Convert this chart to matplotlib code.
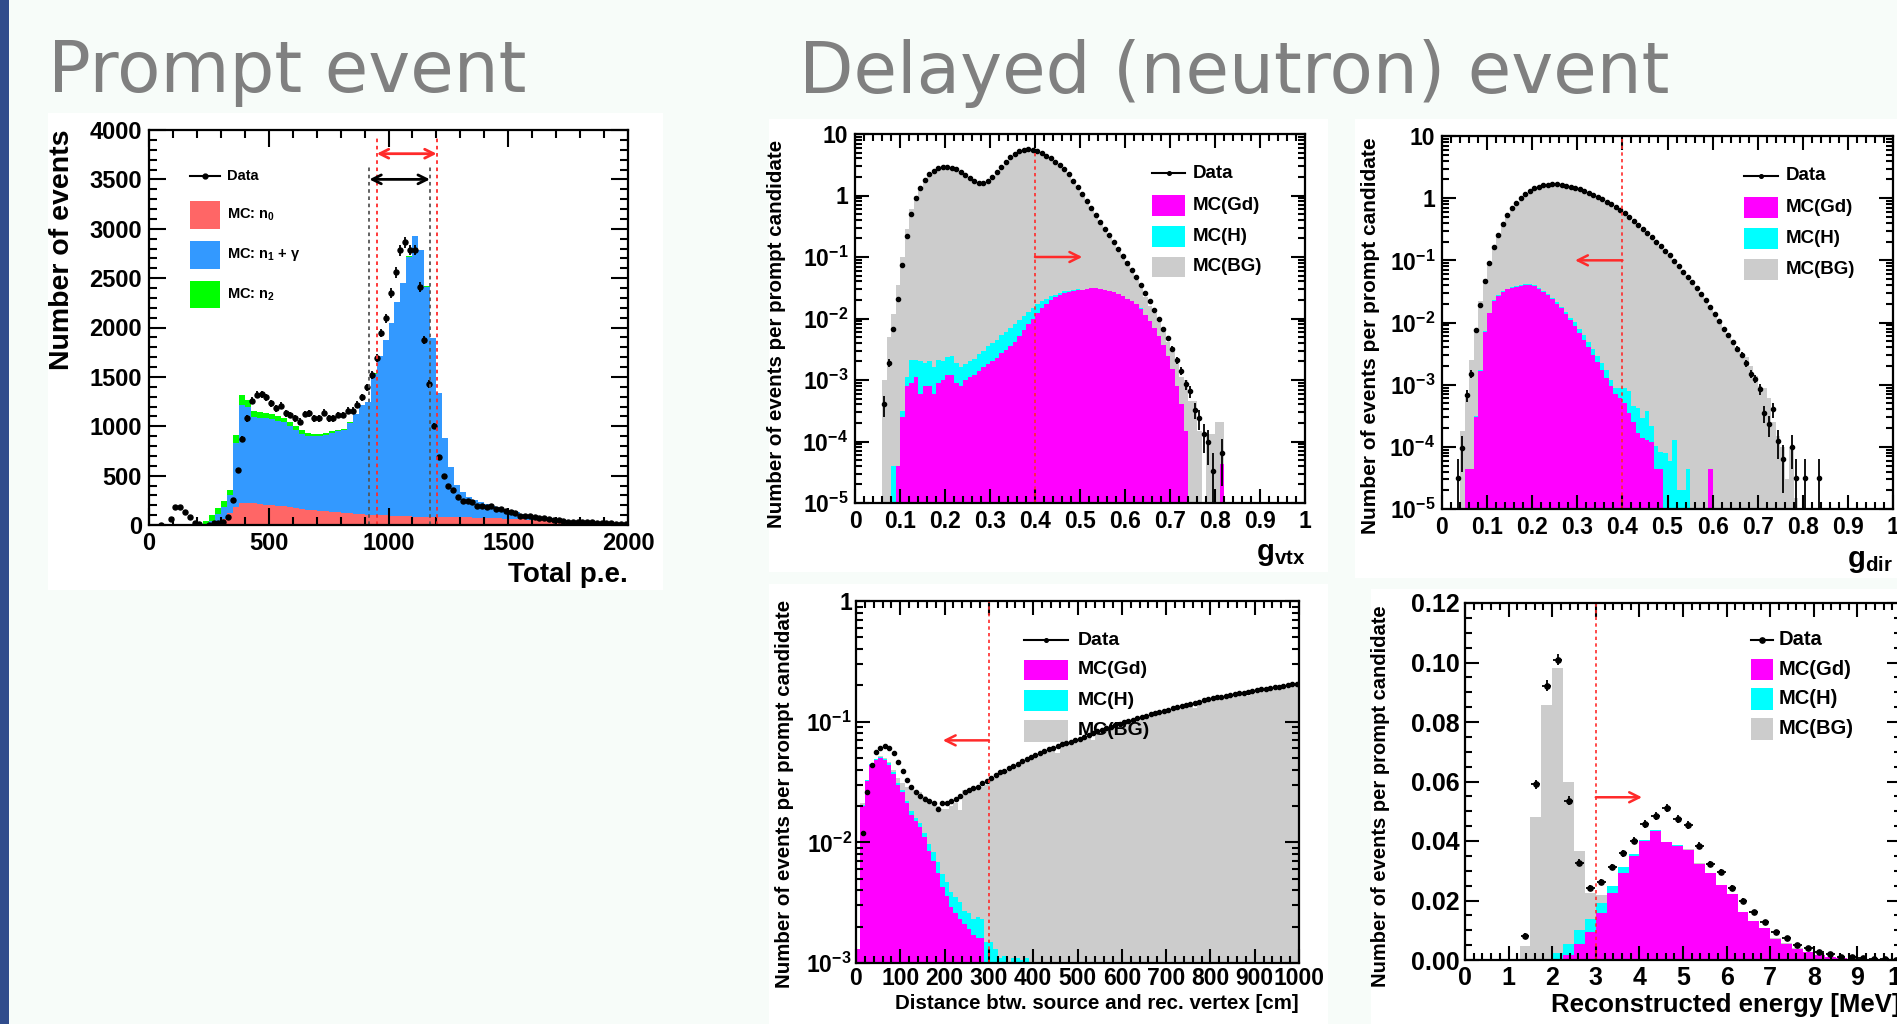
import numpy as np
import matplotlib
matplotlib.use('Agg')
import matplotlib.pyplot as plt
from matplotlib.patches import Rectangle
from matplotlib.ticker import (MultipleLocator, FixedLocator, FixedFormatter,
                               LogLocator, NullFormatter, FuncFormatter)

plt.rcParams.update({
    'font.family': ['Liberation Sans', 'DejaVu Sans'],
    'font.weight': 'bold',
    'mathtext.fontset': 'custom',
    'mathtext.rm': 'Liberation Sans:bold',
    'mathtext.it': 'Liberation Sans:bold',
    'mathtext.bf': 'Liberation Sans:bold',
    'mathtext.sf': 'Liberation Sans:bold',
    'axes.linewidth': 1.6,
})

# ---------------------------------------------------------------- data
# Panel 1: Total p.e. (MC in 25 p.e. bins, data in 20 p.e. bins)
pe_total = [0, 0, 0, 0, 0, 0, 0, 0, 0,
            40, 100, 169, 247, 355, 912, 1318, 1267, 1150, 1140,
            1135, 1120, 1100, 1080, 1040, 1000, 960, 935, 925, 925,
            930, 950, 960, 975, 1040, 1125, 1216, 1250, 1537, 1713,
            1875, 2044, 2257, 2449, 2720, 2929, 2787, 2416, 1892, 1334,
            878, 591, 405, 330, 280, 250, 230, 210, 195, 180,
            165, 150, 130, 115, 105, 95, 85, 75, 66, 58,
            50, 44, 38, 33, 28, 24, 20, 17, 14, 12, 10]
pe_n0 = [0, 0, 0, 0, 0, 0, 0, 0, 0, 0,
         5, 20, 60, 120, 180, 220, 225, 220, 210, 205,
         200, 195, 190, 180, 170, 160, 155, 150, 145, 140,
         135, 130, 125, 120, 115, 110, 105, 100, 100, 98,
         95, 92, 90, 88, 85, 82, 80, 79, 78, 78,
         78, 77, 77, 76, 75, 73, 71, 69, 67, 65,
         62, 60, 57, 55, 52, 50, 47, 45, 42, 39,
         36, 33, 30, 27, 24, 20, 17, 14, 12, 10]
pe_n2 = [0, 0, 0, 0, 0, 0, 0, 0, 0,
         40, 60, 60, 60, 55, 85, 100, 70, 60, 55,
         50, 45, 45, 42, 40, 40, 35, 30, 28, 22,
         18, 15, 12, 10, 8, 6, 5, 4, 3, 3,
         2, 2, 2, 2, 2, 2, 2, 1, 1, 1,
         0, 0, 0, 0, 0, 0, 0, 0, 0, 0,
         0, 0, 0, 0, 0, 0, 0, 0, 0, 0,
         0, 0, 0, 0, 0, 0, 0, 0, 0, 0, 0]
pe_data = [0, 0, 5, 0, 60, 179, 186, 135, 78, 24,
           8, 0, 3, 17, 25, 34, 78, 253, 557, 868,
           1081, 1260, 1318, 1324, 1294, 1233, 1182, 1210, 1132, 1115,
           1081, 1047, 1125, 1132, 1081, 1081, 1138, 1081, 1081, 1115,
           1115, 1159, 1159, 1216, 1294, 1395, 1520, 1689, 1943, 2095,
           2348, 2557, 2780, 2861, 2787, 2787, 2409, 1875, 1429, 1003,
           686, 497, 400, 355, 287, 247, 247, 236, 196, 196,
           179, 196, 162, 162, 145, 135, 125, 91, 91, 91,
           78, 68, 68, 57, 51, 51, 44, 34, 34, 34,
           27, 27, 27, 17, 17, 17, 17, 10, 10, 10]
pe_err = [0, 0, 4, 0, 9, 13, 13, 12, 9, 5,
          3, 0, 2, 4, 5, 6, 9, 16, 24, 29,
          33, 35, 36, 36, 36, 35, 34, 35, 34, 33,
          33, 32, 34, 34, 33, 33, 34, 33, 33, 33,
          33, 34, 34, 35, 36, 37, 39, 41, 44, 46,
          48, 51, 53, 53, 53, 53, 49, 43, 38, 32,
          26, 22, 20, 19, 17, 16, 16, 15, 14, 14,
          13, 14, 13, 13, 12, 12, 11, 10, 10, 10,
          9, 8, 8, 8, 7, 7, 7, 6, 6, 6,
          5, 5, 5, 4, 4, 4, 4, 3, 3, 3]
pe_cut_black = [920, 1173]
pe_cut_red = [951, 1201]

# Panel 2: g_vtx (0.01 bins)
vtx_data = [0, 0, 0, 0, 0, 0,
            4e-4, 1.9e-3, 6.8e-3, 0.021, 0.074,
            0.22, 0.50, 0.90, 1.34, 1.8,
            2.2, 2.5, 2.75, 2.9, 2.9,
            2.85, 2.7, 2.45, 2.15, 1.9,
            1.72, 1.62, 1.62, 1.74, 2.0,
            2.4, 2.9, 3.5, 4.2, 4.7,
            5.2, 5.5, 5.6, 5.5, 5.2,
            4.85, 4.45, 4.0, 3.55, 3.1,
            2.7, 2.2, 1.75, 1.35, 1.05,
            0.80, 0.62, 0.48, 0.37, 0.29,
            0.225, 0.175, 0.135, 0.105, 0.08,
            0.062, 0.047, 0.035, 0.026, 0.019,
            0.0135, 0.0097, 0.0068, 0.0048, 0.0032,
            0.0021, 0.0014, 8.5e-4, 6.6e-4, 3.3e-4,
            2.4e-4, 1.3e-4, 9.8e-5, 3.3e-5, 0,
            6.5e-5, 0, 0, 0, 0,
            0, 0, 0, 0, 0, 0, 0, 0, 0, 0, 0, 0, 0, 0]
vtx_err = [0, 0, 0, 0, 0, 0,
           1.5e-4, 3e-4, 5e-4, 8e-4, 1.5e-3,
           0, 0, 0, 0, 0, 0, 0, 0, 0, 0,
           0, 0, 0, 0, 0, 0, 0, 0, 0, 0,
           0, 0, 0, 0, 0, 0, 0, 0, 0, 0,
           0, 0, 0, 0, 0, 0, 0, 0, 0, 0,
           0, 0, 0, 0, 0, 0, 0, 0, 0, 0,
           0, 0, 0, 0, 8e-4,
           6.5e-4, 5.5e-4, 4.6e-4, 3.9e-4, 3.2e-4,
           2.6e-4, 2.1e-4, 1.65e-4, 1.45e-4, 1.0e-4,
           8.8e-5, 6.4e-5, 5.6e-5, 3.3e-5, 0,
           4.6e-5, 0, 0, 0, 0,
           0, 0, 0, 0, 0, 0, 0, 0, 0, 0, 0, 0, 0, 0]
vtx_gd = [0, 0, 0, 0, 0, 0, 0, 0, 0,
          4e-5, 2.5e-4, 8e-4, 9e-4, 1.1e-3, 6e-4, 8e-4, 8e-4, 6e-4, 9e-4,
          1.0e-3, 1.2e-3, 1.2e-3, 9e-4, 8e-4, 1.0e-3, 1.1e-3, 1.2e-3, 1.4e-3, 1.6e-3,
          1.8e-3, 2.0e-3, 2.3e-3, 2.7e-3, 3.1e-3, 3.6e-3, 4.2e-3, 5.2e-3, 6.5e-3, 8.0e-3,
          0.010, 0.0125, 0.015, 0.0175, 0.020, 0.022, 0.024, 0.026, 0.027, 0.028,
          0.029, 0.029, 0.030, 0.031, 0.031, 0.030, 0.029, 0.028, 0.027, 0.025,
          0.023, 0.021, 0.019, 0.017, 0.0145, 0.0115, 0.0092, 0.0070, 0.0052, 0.0037,
          0.0025, 0.0015, 8e-4, 4e-4, 1.5e-4,
          0, 0, 0, 0, 0, 0, 0, 4.3e-5,
          0, 0, 0, 0, 0, 0, 0, 0, 0, 0, 0, 0, 0, 0, 0, 0, 0, 0]
vtx_h = [0, 0, 0, 0, 0, 0, 0, 0,
         4e-5, 0, 6e-5, 3e-4, 1.2e-3, 1.0e-3, 1.4e-3, 1.1e-3, 1.2e-3, 1.0e-3,
         1.2e-3, 1.0e-3, 1.2e-3, 1.3e-3, 1.0e-3, 8e-4, 8e-4, 9e-4, 1.0e-3, 1.2e-3,
         1.4e-3, 1.8e-3, 2.0e-3, 2.2e-3, 2.6e-3, 3.0e-3, 3.5e-3, 4.0e-3, 4.4e-3, 4.6e-3,
         4.8e-3, 4.8e-3, 4.5e-3, 4.0e-3, 3.5e-3, 3.0e-3, 2.5e-3, 2.0e-3, 1.5e-3, 1.2e-3,
         1.0e-3, 8e-4, 6e-4, 5e-4, 4e-4, 3e-4, 3e-4, 2e-4, 2e-4, 1.5e-4,
         1.2e-4, 1e-4, 8e-5, 7e-5, 6e-5, 5e-5, 4e-5,
         0, 0, 0, 0, 0, 0, 0, 0, 0, 0, 0, 0, 0, 0, 0, 0, 0, 0,
         0, 0, 0, 0, 0, 0, 0, 0, 0, 0, 0, 0, 0, 0, 0, 0, 0]
vtx_total = [0, 0, 0, 0, 0, 0,
             1.0e-3, 5e-3, 0.012, 0.035, 0.10,
             0.28, 0.60, 1.0, 1.4, 1.85,
             2.25, 2.55, 2.75, 2.9, 2.9,
             2.8, 2.65, 2.4, 2.1, 1.85,
             1.68, 1.58, 1.58, 1.7, 1.95,
             2.35, 2.85, 3.45, 4.1, 4.6,
             5.1, 5.4, 5.5, 5.4, 5.1,
             4.75, 4.35, 3.9, 3.45, 3.0,
             2.6, 2.1, 1.68, 1.3, 1.0,
             0.77, 0.59, 0.455, 0.35, 0.27,
             0.205, 0.16, 0.12, 0.092, 0.085,
             0.056, 0.043, 0.031, 0.022, 0.016,
             0.0125, 0.0088, 0.0062, 0.0042, 0.0035,
             0.0022, 0.0011, 0.0010, 4.6e-4, 4.6e-4,
             1.5e-4, 0, 1.3e-4, 1.3e-4, 2.1e-4,
             2.1e-4, 0, 0, 0, 0,
             0, 0, 0, 0, 0, 0, 0, 0, 0, 0, 0, 0, 0, 0]

# Panel 3: g_dir (0.01 bins)
dir_data = [0, 0, 0, 3.2e-5, 9.5e-5, 6.8e-4, 1.5e-3, 7.6e-3, 0.019, 0.047,
            0.092, 0.166, 0.26, 0.38, 0.53, 0.69, 0.85, 1.0, 1.17, 1.31,
            1.44, 1.53, 1.61, 1.65, 1.66, 1.66, 1.63, 1.59, 1.53, 1.46,
            1.39, 1.30, 1.21, 1.13, 1.05, 0.96, 0.88, 0.80, 0.72, 0.65,
            0.57, 0.50, 0.43, 0.37, 0.32, 0.28, 0.24, 0.20, 0.17, 0.143,
            0.12, 0.099, 0.082, 0.066, 0.054, 0.044, 0.036, 0.029, 0.023, 0.018,
            0.0138, 0.0105, 0.0080, 0.0062, 0.0048, 0.0038, 0.0030, 0.0022, 0.0015, 0.00125,
            8.5e-4, 3.5e-4, 2.3e-4, 4.0e-4, 1.26e-4, 6.3e-5, 0, 1.0e-4, 3.2e-5, 0,
            3.2e-5, 0, 0, 3.2e-5, 0, 0, 0, 0, 0, 0,
            0, 0, 0, 0, 0, 0, 0, 0, 0, 0]
dir_err = [0, 0, 0, 3.2e-5, 5.5e-5, 1.5e-4, 2.2e-4, 5e-4, 8e-4, 0,
           0, 0, 0, 0, 0, 0, 0, 0, 0, 0,
           0, 0, 0, 0, 0, 0, 0, 0, 0, 0,
           0, 0, 0, 0, 0, 0, 0, 0, 0, 0,
           0, 0, 0, 0, 0, 0, 0, 0, 0, 0,
           0, 0, 0, 0, 0, 0, 0, 0, 0, 0,
           0, 0, 0, 0, 3.9e-4, 3.5e-4, 3.1e-4, 2.6e-4, 2.2e-4, 2.0e-4,
           1.6e-4, 1.1e-4, 8.6e-5, 1.1e-4, 6.3e-5, 4.5e-5, 0, 5.6e-5, 3.2e-5, 0,
           3.2e-5, 0, 0, 3.2e-5, 0, 0, 0, 0, 0, 0,
           0, 0, 0, 0, 0, 0, 0, 0, 0, 0]
dir_gd = [0, 0, 0, 0, 0, 4.4e-5, 4.4e-5, 3e-4, 1.65e-3, 7e-3,
          0.014, 0.0225, 0.027, 0.031, 0.034, 0.0365, 0.037, 0.039, 0.040, 0.040,
          0.039, 0.035, 0.031, 0.0275, 0.024, 0.020, 0.0168, 0.0137, 0.011, 0.0089,
          0.0068, 0.0052, 0.0040, 0.0030, 0.0023, 0.0017, 0.0013, 9.5e-4, 7e-4, 6e-4,
          5e-4, 3.5e-4, 2.5e-4, 1.7e-4, 1.4e-4, 1.3e-4, 1.2e-4, 4.4e-5, 4.4e-5, 0,
          0, 0, 0, 0, 0, 0, 0, 0, 0, 4.4e-5,
          0, 0, 0, 0, 0, 0, 0, 0, 0, 0,
          0, 0, 0, 0, 0, 0, 0, 0, 0, 0,
          0, 0, 0, 0, 0, 0, 0, 0, 0, 0,
          0, 0, 0, 0, 0, 0, 0, 0, 0, 0]
dir_h = [0, 0, 0, 0, 0, 0, 0, 1e-5, 5e-5, 2e-4,
         4e-4, 6e-4, 7e-4, 8e-4, 9e-4, 1.0e-3, 1.0e-3, 1.0e-3, 1.0e-3, 1.0e-3,
         1.0e-3, 1.0e-3, 1.0e-3, 1.0e-3, 1.0e-3, 1.0e-3, 1.0e-3, 1.0e-3, 1.0e-3, 1.2e-3,
         1.1e-3, 1.0e-3, 9e-4, 8e-4, 6e-4, 5e-4, 4e-4, 2.5e-4, 2e-4, 3e-4,
         4e-4, 4.5e-4, 2e-4, 2.5e-4, 1.5e-4, 2.5e-4, 1e-4, 6e-5, 4e-5, 8e-5,
         6e-5, 1.3e-4, 2e-5, 2e-5, 4.4e-5, 0, 0, 0, 0, 0,
         0, 0, 0, 0, 0, 0, 0, 0, 0, 0,
         0, 0, 0, 0, 0, 0, 0, 0, 0, 0,
         0, 0, 0, 0, 0, 0, 0, 0, 0, 0,
         0, 0, 0, 0, 0, 0, 0, 0, 0, 0]
dir_total = [0, 0, 0, 0, 1.8e-4, 6e-4, 2.5e-3, 8e-3, 0.022, 0.05,
             0.095, 0.17, 0.26, 0.37, 0.52, 0.68, 0.83, 0.98, 1.15, 1.29,
             1.42, 1.51, 1.59, 1.63, 1.64, 1.64, 1.61, 1.57, 1.51, 1.44,
             1.37, 1.28, 1.19, 1.11, 1.03, 0.94, 0.86, 0.78, 0.70, 0.63,
             0.56, 0.49, 0.42, 0.36, 0.31, 0.27, 0.23, 0.195, 0.165, 0.14,
             0.118, 0.097, 0.080, 0.065, 0.053, 0.045, 0.035, 0.028, 0.024, 0.0175,
             0.0135, 0.010, 0.0082, 0.0058, 0.0046, 0.0040, 0.0028, 0.0028, 0.0020, 0.0014,
             9.5e-4, 9e-4, 6e-4, 2.5e-4, 1.5e-4, 1.0e-4, 3e-5, 1.0e-4, 1.5e-5, 0,
             0, 0, 0, 0, 0, 0, 0, 0, 0, 0,
             0, 0, 0, 0, 0, 0, 0, 0, 0, 0]

# Panel 4: distance (10 cm bins)
dist_data = [0, 0.012, 0.026, 0.044, 0.056, 0.061, 0.063, 0.061, 0.055, 0.046,
             0.039, 0.033, 0.029, 0.026, 0.024, 0.023, 0.022, 0.021, 0.019, 0.021,
             0.021, 0.022, 0.023, 0.024, 0.026, 0.027, 0.028, 0.029, 0.031, 0.032,
             0.034, 0.036, 0.038, 0.039, 0.041, 0.043, 0.045, 0.047, 0.049, 0.051,
             0.053, 0.055, 0.057, 0.059, 0.061, 0.063, 0.065, 0.066, 0.068, 0.070,
             0.072, 0.075, 0.077, 0.080, 0.083, 0.085, 0.088, 0.091, 0.093, 0.096,
             0.099, 0.102, 0.104, 0.108, 0.110, 0.112, 0.115, 0.117, 0.120, 0.123,
             0.126, 0.129, 0.132, 0.135, 0.138, 0.141, 0.144, 0.146, 0.150, 0.153,
             0.156, 0.159, 0.161, 0.164, 0.166, 0.169, 0.172, 0.174, 0.176, 0.179,
             0.182, 0.185, 0.187, 0.190, 0.193, 0.195, 0.198, 0.201, 0.204, 0.207]
dist_gd = [1.3e-3, 0.020, 0.032, 0.044, 0.048, 0.050, 0.048, 0.044, 0.037, 0.030,
           0.026, 0.021, 0.017, 0.015, 0.0135, 0.011, 0.0085, 0.0070, 0.0056, 0.0043,
           0.0036, 0.0029, 0.0026, 0.0023, 0.0021, 0.0019, 0.0017, 0.0016, 0.0016, 2e-4,
           0, 0, 0, 0, 0, 0, 0, 0, 0, 0,
           0, 0, 0, 0, 0, 0, 0, 0, 0, 0,
           0, 0, 0, 0, 0, 0, 0, 0, 0, 0,
           0, 0, 0, 0, 0, 0, 0, 0, 0, 0,
           0, 0, 0, 0, 0, 0, 0, 0, 0, 0,
           0, 0, 0, 0, 0, 0, 0, 0, 0, 0,
           0, 0, 0, 0, 0, 0, 0, 0, 0, 0]
dist_h = [0, 5e-4, 8e-4, 1.0e-3, 1.2e-3, 1.3e-3, 1.3e-3, 1.2e-3, 1.2e-3, 1.1e-3,
          1.0e-3, 1.0e-3, 1.1e-3, 1.0e-3, 1.0e-3, 1.0e-3, 1.2e-3, 1.3e-3, 1.3e-3, 1.2e-3,
          1.1e-3, 1.0e-3, 0.9e-3, 0.9e-3, 0.6e-3, 0.7e-3, 0.6e-3, 0.8e-3, 0.7e-3, 1.3e-3,
          1.5e-3, 1.3e-3, 1.1e-3, 1.15e-3, 0.8e-3, 1.1e-3, 1.1e-3, 1.05e-3, 1.1e-3, 0,
          0, 0, 0, 0, 0, 0, 0, 0, 0, 0,
          0, 0, 0, 0, 0, 0, 0, 0, 0, 0,
          0, 0, 0, 0, 0, 0, 0, 0, 0, 0,
          0, 0, 0, 0, 0, 0, 0, 0, 0, 0,
          0, 0, 0, 0, 0, 0, 0, 0, 0, 0,
          0, 0, 0, 0, 0, 0, 0, 0, 0, 0]
dist_total = [1.3e-3, 0.021, 0.033, 0.045, 0.0495, 0.052, 0.050, 0.046, 0.040, 0.034,
              0.031, 0.029, 0.028, 0.027, 0.026, 0.024, 0.023, 0.021, 0.020, 0.019,
              0.019, 0.020, 0.021, 0.0185, 0.027, 0.027, 0.027, 0.028, 0.029, 0.030,
              0.032, 0.034, 0.036, 0.037, 0.039, 0.041, 0.043, 0.045, 0.047, 0.048,
              0.050, 0.052, 0.054, 0.056, 0.058, 0.055, 0.062, 0.063, 0.065, 0.067,
              0.069, 0.071, 0.073, 0.070, 0.079, 0.081, 0.084, 0.087, 0.089, 0.091,
              0.094, 0.097, 0.099, 0.102, 0.105, 0.107, 0.109, 0.111, 0.114, 0.117,
              0.120, 0.123, 0.126, 0.128, 0.131, 0.134, 0.131, 0.140, 0.143, 0.146,
              0.148, 0.151, 0.153, 0.156, 0.158, 0.161, 0.163, 0.165, 0.162, 0.170,
              0.173, 0.176, 0.178, 0.181, 0.184, 0.186, 0.189, 0.191, 0.194, 0.197]

# Panel 5: reconstructed energy (0.25 MeV bins)
en_data = [0, 0, 0, 0, 0, 0.0082, 0.0591, 0.0922, 0.1009, 0.0536,
           0.0327, 0.0241, 0.0262, 0.0312, 0.0359, 0.0401, 0.0456, 0.0484, 0.0510, 0.0473,
           0.0454, 0.0384, 0.0323, 0.0296, 0.0241, 0.0200, 0.0160, 0.0127, 0.0095, 0.0073,
           0.0050, 0.0039, 0.0028, 0.0020, 0.0011, 0.0009, 0.0007, 0.0004, 0.0002, 0.0001]
en_err = [0, 0, 0, 0, 0, 0.0008, 0.0015, 0.0018, 0.0018, 0.0015,
          0.0012, 0.0010, 0.0010, 0.0011, 0.0012, 0.0012, 0.0013, 0.0013, 0.0014, 0.0013,
          0.0013, 0.0012, 0.0011, 0.0011, 0.0010, 0.0009, 0.0008, 0.0007, 0.0006, 0.0006,
          0.0005, 0.0004, 0.0004, 0.0003, 0.0003, 0.0002, 0.0002, 0.0002, 0.0001, 0.0001]
en_gd = [0, 0, 0, 0, 0, 0, 0, 0, 0.0003, 0.0017,
         0.0053, 0.0095, 0.0157, 0.0224, 0.0294, 0.0350, 0.0400, 0.0435, 0.0396, 0.0384,
         0.0371, 0.0324, 0.0293, 0.0251, 0.0221, 0.0162, 0.0131, 0.0106, 0.0072, 0.0055,
         0.0038, 0.0027, 0.0016, 0.0010, 0.0006, 0.0004, 0.0002, 0.0001, 0.0001, 0.0]
en_h = [0, 0, 0, 0, 0, 0, 0, 0.0005, 0.0019, 0.0036,
        0.0048, 0.0043, 0.0036, 0.0025, 0.0018, 0.0007, 0.0004, 0.0002, 0.0002, 0.0001,
        0, 0, 0, 0, 0, 0, 0, 0, 0, 0,
        0, 0, 0, 0, 0, 0, 0, 0, 0, 0]
en_total = [0, 0, 0, 0, 0, 0.0048, 0.048, 0.0858, 0.098, 0.060,
            0.0366, 0.0224, 0.0219, 0.0249, 0.0312, 0.0357, 0.0404, 0.0437, 0.0398, 0.0385,
            0.0372, 0.0325, 0.0294, 0.0252, 0.0222, 0.0163, 0.0132, 0.0107, 0.0073, 0.0056,
            0.0039, 0.0028, 0.0017, 0.0011, 0.0007, 0.0004, 0.0003, 0.0002, 0.0001, 0.0001]

# ---------------------------------------------------------------- style
W, H = 1897, 1024
SLIDE = '#F7FCF9'
STRIPE = '#304C8C'
GREY, CYAN, MAGENTA = '#CCCCCC', '#00FFFF', '#FF00FF'
RED0, BLUE1, GREEN2 = '#FF6666', '#3399FF', '#00FF00'
CUT_RED = '#FF2A2A'

fig = plt.figure(figsize=(W / 100, H / 100), dpi=100)
fig.patch.set_facecolor(SLIDE)


def fig_rect(l, t, r, b, color, z=-5):
    fig.add_artist(Rectangle((l / W, 1 - b / H), (r - l) / W, (b - t) / H,
                             transform=fig.transFigure, facecolor=color,
                             edgecolor='none', zorder=z))


def ftext(x, y, s, **kw):
    fig.text(x / W, 1 - y / H, s, **kw)


def px_axes(l, t, r, b):
    ax = fig.add_axes([l / W, 1 - b / H, (r - l) / W, (b - t) / H])
    ax.set_facecolor('white')
    return ax


def style(ax, fs, maj=10, mnr=5, pad=5):
    ax.tick_params(which='both', direction='in', top=True, right=True,
                   width=1.5, labelsize=fs, pad=pad)
    ax.tick_params(which='major', length=maj)
    ax.tick_params(which='minor', length=mnr)
    for s in ax.spines.values():
        s.set_linewidth(1.6)
        s.set_zorder(10)


def stack(ax, edges, layers, floor):
    for vals, col in layers:
        v = np.asarray(vals, float)
        v = np.where(v > 0, v, floor)
        ax.stairs(v, edges, baseline=floor, fill=True, color=col, lw=0, zorder=1)


def data_pts(ax, centers, vals, err, ms, xerr=None):
    c = np.asarray(centers, float)
    v = np.asarray(vals, float)
    m = v > 0
    e = None if err is None else np.asarray(err, float)[m]
    ax.errorbar(c[m], v[m], yerr=e, xerr=xerr, fmt='o', color='k', ms=ms,
                elinewidth=1.3, capsize=0, zorder=6)


def legend(ax, x0, x1, yd, tx, boxes, fs, ms):
    ax.plot([x0, x1], [yd, yd], color='k', lw=1.5, transform=ax.transAxes, zorder=4)
    ax.plot([(x0 + x1) / 2], [yd], 'o', color='k', ms=ms, transform=ax.transAxes, zorder=4)
    ax.text(tx, yd, 'Data', transform=ax.transAxes, ha='left', va='center',
            fontsize=fs, zorder=4)
    for (yb0, yb1, col, lab) in boxes:
        ax.add_patch(Rectangle((x0, yb0), x1 - x0, yb1 - yb0, transform=ax.transAxes,
                               facecolor=col, edgecolor='none', zorder=4))
        ax.text(tx, (yb0 + yb1) / 2, lab, transform=ax.transAxes, ha='left',
                va='center', fontsize=fs, zorder=4)


def log_labels(ax, lo, hi):
    ticks = [10.0 ** k for k in range(lo, hi + 1)]
    labs = []
    for k in range(lo, hi + 1):
        if k == 0:
            labs.append('1')
        elif k == 1:
            labs.append('10')
        else:
            labs.append(r'$10^{%d}$' % k)
    ax.yaxis.set_major_locator(FixedLocator(ticks))
    ax.yaxis.set_major_formatter(FixedFormatter(labs))
    ax.yaxis.set_minor_locator(LogLocator(base=10, subs=np.arange(2, 10), numticks=50))
    ax.yaxis.set_minor_formatter(NullFormatter())


def short_fmt(v, p):
    return f'{round(v, 3):g}'


# slide decoration
fig_rect(0, 0, 9, H, STRIPE, z=-4)
for box in [(48, 113, 663, 590), (769, 119, 1328, 572), (1355, 119, 1897, 578),
            (769, 584, 1328, 1024), (1371, 589, 1897, 1024)]:
    fig_rect(*box, 'white')

ftext(48, 92, 'Prompt event', fontsize=51, color='#808080',
      family='DejaVu Sans', weight='normal', ha='left', va='baseline')
ftext(799, 93, 'Delayed (neutron) event', fontsize=51, color='#808080',
      family='DejaVu Sans', weight='normal', ha='left', va='baseline')

# ---------------------------------------------------------------- panel 1
ax1 = px_axes(149, 130, 628, 525)
pe_edges = np.linspace(0, 2000, len(pe_total) + 1)
t = np.asarray(pe_total, float)
n2 = np.asarray(pe_n2, float)
n0 = np.asarray(pe_n0, float)
stack(ax1, pe_edges, [(t, GREEN2), (t - n2, BLUE1), (n0, RED0)], 0)
pe_centers = np.linspace(10, 1990, len(pe_data))
data_pts(ax1, pe_centers, pe_data, pe_err, 3.6)
ax1.set_xlim(0, 2000)
ax1.set_ylim(0, 4000)
ax1.xaxis.set_major_locator(MultipleLocator(500))
ax1.xaxis.set_minor_locator(MultipleLocator(100))
ax1.yaxis.set_major_locator(MultipleLocator(500))
ax1.yaxis.set_minor_locator(MultipleLocator(100))
style(ax1, 17, maj=12, mnr=6)
for xc in pe_cut_black:
    ax1.plot([xc, xc], [0, 3650], color='#555555', ls=(0, (2, 2)), lw=1.3, zorder=7)
for xc in pe_cut_red:
    ax1.plot([xc, xc], [0, 3920], color=CUT_RED, ls=(0, (2, 2)), lw=1.3, zorder=7)
ax1.annotate('', xy=(pe_cut_black[1], 3500), xytext=(pe_cut_black[0], 3500),
             arrowprops=dict(arrowstyle='<->', color='k', lw=2, mutation_scale=16,
                             shrinkA=0, shrinkB=0), zorder=7)
ax1.annotate('', xy=(pe_cut_red[1], 3760), xytext=(pe_cut_red[0], 3760),
             arrowprops=dict(arrowstyle='<->', color=CUT_RED, lw=2, mutation_scale=16,
                             shrinkA=0, shrinkB=0), zorder=7)
legend(ax1, 0.086, 0.148, 0.883, 0.162,
       [(0.750, 0.820, RED0, r'MC: n$_0$'),
        (0.649, 0.720, BLUE1, 'MC: n$_1$ + γ'),
        (0.549, 0.618, GREEN2, r'MC: n$_2$')], 10.5, 3.5)
ftext(62, 130, 'Number of events', fontsize=20.5, rotation=90, ha='center', va='top')
ftext(628, 582, 'Total p.e.', fontsize=20, ha='right', va='baseline')

YLAB = 'Number of events per prompt candidate'

# ---------------------------------------------------------------- panel 2
ax2 = px_axes(855, 134, 1305, 503)
ax2.set_yscale('log')
g_edges = np.linspace(0, 1, 101)
g_centers = np.linspace(0.005, 0.995, 100)
gd = np.asarray(vtx_gd, float)
stack(ax2, g_edges, [(vtx_total, GREY), (gd + np.asarray(vtx_h), CYAN), (gd, MAGENTA)], 1e-9)
data_pts(ax2, g_centers, vtx_data, vtx_err, 3.0)
ax2.set_xlim(0, 1)
ax2.set_ylim(1e-5, 10)
log_labels(ax2, -5, 1)
ax2.xaxis.set_major_locator(MultipleLocator(0.1))
ax2.xaxis.set_minor_locator(MultipleLocator(0.02))
ax2.xaxis.set_major_formatter(FuncFormatter(short_fmt))
style(ax2, 16.5)
ax2.plot([0.4, 0.4], [1e-5, 5.2], color=CUT_RED, ls=(0, (2, 2)), lw=1.2, zorder=7)
ax2.annotate('', xy=(0.505, 0.1), xytext=(0.4, 0.1),
             arrowprops=dict(arrowstyle='->', color=CUT_RED, lw=1.8, mutation_scale=18,
                             shrinkA=0, shrinkB=0), zorder=7)
legend(ax2, 0.660, 0.734, 0.893, 0.750,
       [(0.778, 0.835, MAGENTA, 'MC(Gd)'), (0.695, 0.752, CYAN, 'MC(H)'),
        (0.612, 0.668, GREY, 'MC(BG)')], 13.5, 2.6)
ftext(776, 140, YLAB, fontsize=14.8, rotation=90, ha='center', va='top')
ftext(1305, 560, r'g$_{vtx}$', fontsize=21, ha='right', va='baseline')

# ---------------------------------------------------------------- panel 3
ax3 = px_axes(1442, 136, 1893, 509)
ax3.set_yscale('log')
gd = np.asarray(dir_gd, float)
stack(ax3, g_edges, [(dir_total, GREY), (gd + np.asarray(dir_h), CYAN), (gd, MAGENTA)], 1e-9)
data_pts(ax3, g_centers, dir_data, dir_err, 3.0)
ax3.set_xlim(0, 1)
ax3.set_ylim(1e-5, 10)
log_labels(ax3, -5, 1)
ax3.xaxis.set_major_locator(MultipleLocator(0.1))
ax3.xaxis.set_minor_locator(MultipleLocator(0.02))
ax3.xaxis.set_major_formatter(FuncFormatter(short_fmt))
style(ax3, 16.5)
ax3.plot([0.4, 0.4], [1e-5, 10], color=CUT_RED, ls=(0, (2, 2)), lw=1.2, zorder=7)
ax3.annotate('', xy=(0.295, 0.1), xytext=(0.4, 0.1),
             arrowprops=dict(arrowstyle='->', color=CUT_RED, lw=1.8, mutation_scale=18,
                             shrinkA=0, shrinkB=0), zorder=7)
legend(ax3, 0.670, 0.745, 0.893, 0.762,
       [(0.781, 0.8375, MAGENTA, 'MC(Gd)'), (0.698, 0.754, CYAN, 'MC(H)'),
        (0.614, 0.670, GREY, 'MC(BG)')], 13.5, 2.6)
ftext(1370, 137, YLAB, fontsize=15, rotation=90, ha='center', va='top')
ftext(1893, 567, r'g$_{dir}$', fontsize=21, ha='right', va='baseline')

# ---------------------------------------------------------------- panel 4
ax4 = px_axes(856, 601, 1299, 963)
ax4.set_yscale('log')
d_edges = np.linspace(0, 1000, 101)
d_centers = np.linspace(5, 995, 100)
gd = np.asarray(dist_gd, float)
stack(ax4, d_edges, [(dist_total, GREY), (gd + np.asarray(dist_h), CYAN), (gd, MAGENTA)], 1e-9)
ax4.set_xlim(0, 1000)
ax4.set_ylim(1e-3, 1)
log_labels(ax4, -3, 0)
ax4.xaxis.set_major_locator(MultipleLocator(100))
ax4.xaxis.set_minor_locator(MultipleLocator(20))
style(ax4, 16.5, pad=3)
ax4.plot([300, 300], [1e-3, 1], color=CUT_RED, ls=(0, (2, 2)), lw=1.2, zorder=7)
ax4.annotate('', xy=(196, 0.07), xytext=(300, 0.07),
             arrowprops=dict(arrowstyle='->', color=CUT_RED, lw=1.8, mutation_scale=18,
                             shrinkA=0, shrinkB=0), zorder=7)
legend(ax4, 0.380, 0.478, 0.892, 0.501,
       [(0.781, 0.838, MAGENTA, 'MC(Gd)'), (0.697, 0.754, CYAN, 'MC(H)'),
        (0.611, 0.671, GREY, 'MC(BG)')], 14, 2.6)
data_pts(ax4, d_centers, dist_data, None, 3.0)
ftext(785, 600, YLAB, fontsize=14.8, rotation=90, ha='center', va='top')
ftext(1299, 1009, 'Distance btw. source and rec. vertex [cm]', fontsize=14.8,
      ha='right', va='baseline')

# ---------------------------------------------------------------- panel 5
ax5 = px_axes(1465, 603, 1901, 960)
e_edges = np.linspace(0, 10, 41)
e_centers = np.linspace(0.125, 9.875, 40)
gd = np.asarray(en_gd, float)
stack(ax5, e_edges, [(en_total, GREY), (gd + np.asarray(en_h), CYAN), (gd, MAGENTA)], 0)
data_pts(ax5, e_centers, en_data, en_err, 3.8, xerr=0.1)
ax5.set_xlim(0, 10)
ax5.set_ylim(0, 0.12)
ax5.xaxis.set_major_locator(MultipleLocator(1))
ax5.xaxis.set_minor_locator(MultipleLocator(0.2))
ax5.yaxis.set_major_locator(MultipleLocator(0.02))
ax5.yaxis.set_minor_locator(MultipleLocator(0.005))
ax5.yaxis.set_major_formatter(FuncFormatter(lambda v, p: f'{v:.2f}'))
style(ax5, 18, pad=4)
ax5.plot([3, 3], [0, 0.12], color=CUT_RED, ls=(0, (2, 2)), lw=1.2, zorder=7)
ax5.annotate('', xy=(4.06, 0.0547), xytext=(3, 0.0547),
             arrowprops=dict(arrowstyle='->', color=CUT_RED, lw=1.8, mutation_scale=18,
                             shrinkA=0, shrinkB=0), zorder=7)
legend(ax5, 0.657, 0.707, 0.897, 0.719,
       [(0.785, 0.844, MAGENTA, 'MC(Gd)'), (0.701, 0.762, CYAN, 'MC(H)'),
        (0.617, 0.678, GREY, 'MC(BG)')], 14.5, 3.8)
ftext(1380, 605, YLAB, fontsize=14.5, rotation=90, ha='center', va='top')
ftext(1901, 1012, 'Reconstructed energy [MeV]', fontsize=18.5, ha='right', va='baseline')

fig.savefig('out.png', dpi=100, facecolor=fig.get_facecolor())
